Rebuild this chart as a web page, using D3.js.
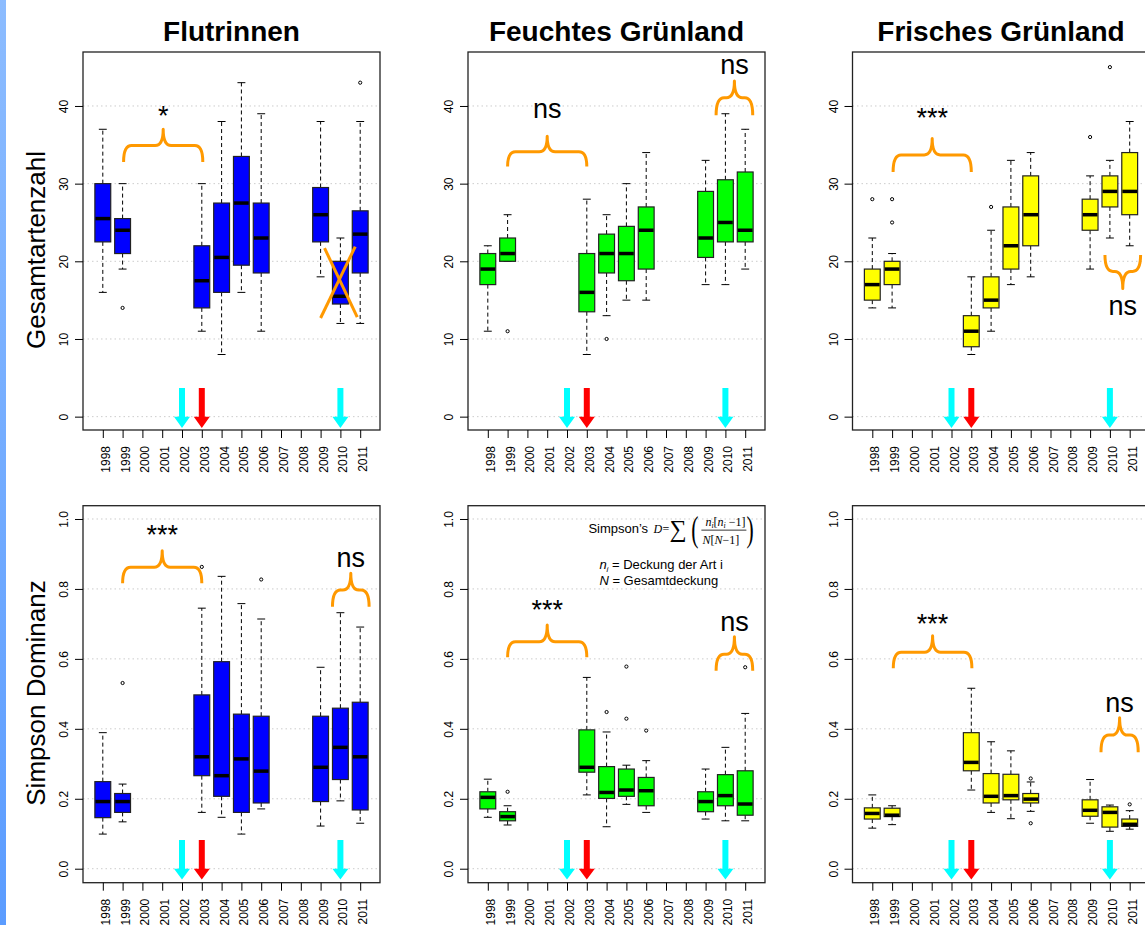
<!DOCTYPE html>
<html>
<head>
<meta charset="utf-8">
<script src="https://cdn.jsdelivr.net/npm/d3@7"></script>
<style>
  body { margin: 0; background: #fff; }
  svg { display: block; font-family: "Liberation Sans", Arial, sans-serif; }
</style>
</head>
<body>
<div id="chart"></div>
<script>
// Axis categories
const years = [1998, 1999, 2000, 2001, 2002, 2003, 2004, 2005, 2006, 2007, 2008, 2009, 2010, 2011];
const sampled = [1998, 1999, 2003, 2004, 2005, 2006, 2009, 2010, 2011];
const titles = ['Flutrinnen', 'Feuchtes Grünland', 'Frisches Grünland'];
const rowLabels = ['Gesamtartenzahl', 'Simpson Dominanz'];
const countTicks = [0, 10, 20, 30, 40];
const simpsonTicks = [0, 0.2, 0.4, 0.6, 0.8, 1.0];

// Box statistics per sampled year: [lower whisker, Q1, median, Q3, upper whisker]
const flutArten = [[16,22.5,25.5,30,37],[19,21,24,25.5,30],[11,14,17.5,22,30],[8,16,20.5,27.5,38],
  [16,19.5,27.5,33.5,43],[11,18.5,23,27.5,39],[18,22.5,26,29.5,38],[12,14.5,15.5,20,23],[12,18.5,23.5,26.5,38]];
const feuchtArten = [[11,17,19,21,22],[20,20,21,23,26],[8,13.5,16,21,28],[13,18.5,21,23.5,26],
  [15,17.5,21,24.5,30],[15,19,24,27,34],[17,20.5,23,29,33],[17,22.5,25,30.5,39],[19,22.5,24,31.5,37]];
const frischArten = [[14,15,17,19,23],[14,17,19,20,21],[8,9,11,13,18],[11,14,15,18,24],
  [17,19,22,27,33],[18,22,26,31,34],[19,24,26,28,31],[23,27,29,31,33],[22,26,29,34,38]];
const flutSimpson = [[0.099,0.146,0.192,0.249,0.389],[0.134,0.161,0.192,0.215,0.242],[0.161,0.266,0.320,0.497,0.745],
  [0.147,0.207,0.266,0.592,0.836],[0.099,0.161,0.314,0.442,0.758],[0.171,0.188,0.279,0.436,0.714],
  [0.122,0.192,0.290,0.436,0.576],[0.194,0.255,0.347,0.459,0.732],[0.130,0.168,0.320,0.476,0.691]];
const feuchtSimpson = [[0.147,0.171,0.204,0.220,0.256],[0.125,0.137,0.149,0.163,0.180],[0.211,0.276,0.290,0.397,0.547],
  [0.120,0.201,0.218,0.292,0.391],[0.184,0.207,0.225,0.285,0.296],[0.161,0.180,0.223,0.261,0.309],
  [0.142,0.163,0.192,0.220,0.285],[0.137,0.180,0.209,0.269,0.347],[0.137,0.153,0.185,0.280,0.444]];
const frischSimpson = [[0.116,0.142,0.158,0.174,0.211],[0.126,0.149,0.153,0.173,0.180],[0.225,0.280,0.304,0.389,0.516],
  [0.161,0.188,0.207,0.272,0.363],[0.143,0.197,0.209,0.270,0.337],[0.164,0.188,0.199,0.215,0.248],
  [0.130,0.150,0.167,0.197,0.255],[0.107,0.119,0.161,0.177,0.182],[0.113,0.121,0.127,0.142,0.166]];

// Outliers: [year, value]
const flutArtenOut = [[1999,14],[2011,43]];
const feuchtArtenOut = [[1999,11],[2004,10]];
const frischArtenOut = [[1998,28],[1999,28],[1999,25],[2004,27],[2009,36],[2010,45]];
const flutSimpsonOut = [[1999,0.531],[2003,0.863],[2006,0.827]];
const feuchtSimpsonOut = [[1999,0.220],[2004,0.448],[2005,0.578],[2005,0.429],[2006,0.395],[2011,0.576]];
const frischSimpsonOut = [[2006,0.258],[2006,0.130],[2011,0.184]];

// Significance braces: [x1, x2, end, middle, tip, label, labelY]
const flutArtenBr = [[1999.05,2003.05,32.8,34.9,37.0,'*',37.5]];
const feuchtArtenBr = [[1999,2003,32.2,34.1,36.1,'ns',38.4],[2009.53,2011.38,38.8,41.05,43.2,'ns',44.1]];
const frischArtenBr = [[1999.05,2003,31.5,33.7,35.8,'***',37.3],[2009.75,2011.55,20.8,18.7,16.5,'ns',13.1]];
const flutSimpsonBr = [[1999,2003,0.816,0.862,0.909,'***',0.928],[2009.6,2011.45,0.749,0.797,0.845,'ns',0.864]];
const feuchtSimpsonBr = [[1999,2003,0.605,0.649,0.697,'***',0.714],[2009.53,2011.38,0.566,0.613,0.663,'ns',0.681]];
const frischSimpsonBr = [[1999.06,2003.03,0.573,0.619,0.666,'***',0.673],[2009.55,2011.43,0.333,0.382,0.432,'ns',0.449]];

// Event arrows and the crossed-out box
const cyanYears = [2002, 2010];
const redYears = [2003];
const crossLines = [[[2009.2,21.7],[2010.85,12.8]], [[2009.0,12.7],[2010.75,21.9]]];
const formulaAt = [2003.08, 0.961];

const fills = ['#0000ff', '#00ff00', '#ffff00'];
const orange = '#ff9900';

const svg = d3.select('#chart').append('svg')
  .attr('width', 1145).attr('height', 925);

// blue strip on the left edge
const grad = svg.append('defs').append('linearGradient')
  .attr('id', 'strip').attr('x1', 0).attr('y1', 0).attr('x2', 0).attr('y2', 1);
grad.append('stop').attr('offset', 0).attr('stop-color', '#8cbcff');
grad.append('stop').attr('offset', 1).attr('stop-color', '#5b9cff');
svg.append('rect').attr('x', 0).attr('y', 0).attr('width', 6).attr('height', 925).attr('fill', 'url(#strip)');

const colLeft = [83, 468, 852.5];
const plotW = 297;
const rows = [
  {top: 52, bottom: 430, domain: [-1.72, 46.95], ticks: countTicks, fmt: d3.format('d'), labelY: 250,
   arrow: [3.7, 0, -1.45], stats: [flutArten, feuchtArten, frischArten],
   outs: [flutArtenOut, feuchtArtenOut, frischArtenOut], braces: [flutArtenBr, feuchtArtenBr, frischArtenBr]},
  {top: 505.7, bottom: 882.7, domain: [-0.04, 1.038], ticks: simpsonTicks, fmt: d3.format('.1f'), labelY: 693,
   arrow: [0.082, 0, -0.031], stats: [flutSimpson, feuchtSimpson, frischSimpson],
   outs: [flutSimpsonOut, feuchtSimpsonOut, frischSimpsonOut], braces: [flutSimpsonBr, feuchtSimpsonBr, frischSimpsonBr]}
];

// column titles
titles.forEach((t, c) => {
  svg.append('text')
    .attr('x', colLeft[c] + plotW / 2).attr('y', 40.5)
    .attr('text-anchor', 'middle').attr('font-size', 28).attr('font-weight', 'bold')
    .text(t);
});

rows.forEach((row, r) => {
  // y axis title
  svg.append('text')
    .attr('transform', `translate(45,${row.labelY}) rotate(-90)`)
    .attr('text-anchor', 'middle').attr('font-size', 26)
    .text(rowLabels[r]);

  colLeft.forEach((left, c) => {
    const x = d3.scaleLinear().domain([1997, 2012]).range([left, left + plotW]);
    const y = d3.scaleLinear().domain(row.domain).range([row.bottom, row.top]);
    const g = svg.append('g');
    const step = x(1998) - x(1997);
    const bw = 0.8 * step;

    // dotted grid
    g.selectAll('.grid').data(row.ticks).enter().append('line')
      .attr('x1', left).attr('x2', left + plotW)
      .attr('y1', d => y(d)).attr('y2', d => y(d))
      .attr('stroke', '#cccccc').attr('stroke-width', 1).attr('stroke-dasharray', '1.5,3');

    // boxes
    const boxData = row.stats[c].map((s, i) => ({year: sampled[i], s: s}));
    const bg = g.selectAll('.box').data(boxData).enter().append('g');
    bg.append('line') // upper whisker
      .attr('x1', d => x(d.year)).attr('x2', d => x(d.year))
      .attr('y1', d => y(d.s[3])).attr('y2', d => y(d.s[4]))
      .attr('stroke', '#000').attr('stroke-dasharray', '4,3');
    bg.append('line') // lower whisker
      .attr('x1', d => x(d.year)).attr('x2', d => x(d.year))
      .attr('y1', d => y(d.s[1])).attr('y2', d => y(d.s[0]))
      .attr('stroke', '#000').attr('stroke-dasharray', '4,3');
    [0, 4].forEach(k => {
      bg.append('line')
        .attr('x1', d => x(d.year) - bw / 4).attr('x2', d => x(d.year) + bw / 4)
        .attr('y1', d => y(d.s[k])).attr('y2', d => y(d.s[k]))
        .attr('stroke', '#000').attr('stroke-width', 1);
    });
    bg.append('rect')
      .attr('x', d => x(d.year) - bw / 2).attr('width', bw)
      .attr('y', d => y(d.s[3])).attr('height', d => y(d.s[1]) - y(d.s[3]))
      .attr('fill', fills[c]).attr('stroke', '#222').attr('stroke-width', 1.2);
    bg.append('line')
      .attr('x1', d => x(d.year) - bw / 2 + 0.6).attr('x2', d => x(d.year) + bw / 2 - 0.6)
      .attr('y1', d => y(d.s[2])).attr('y2', d => y(d.s[2]))
      .attr('stroke', '#000').attr('stroke-width', 3.5);

    g.selectAll('.out').data(row.outs[c]).enter().append('circle')
      .attr('cx', d => x(d[0])).attr('cy', d => y(d[1])).attr('r', 1.6)
      .attr('fill', 'none').attr('stroke', '#000').attr('stroke-width', 1);

    // arrows
    const arrowPts = yr => {
      const ax = x(yr), ys = y(row.arrow[0]), yh = y(row.arrow[1]), yt = y(row.arrow[2]);
      return [[ax - 3, ys], [ax + 3, ys], [ax + 3, yh], [ax + 8, yh], [ax, yt], [ax - 8, yh], [ax - 3, yh]]
        .map(p => p.join(',')).join(' ');
    };
    g.selectAll('.cyan').data(cyanYears).enter().append('polygon')
      .attr('points', arrowPts).attr('fill', '#00ffff');
    g.selectAll('.red').data(redYears).enter().append('polygon')
      .attr('points', arrowPts).attr('fill', '#ff0000');

    // braces with significance labels
    const r0 = 8;
    row.braces[c].forEach(b => {
      const x1 = x(b[0]), x2 = x(b[1]), cx = (x1 + x2) / 2;
      const ye = y(b[2]), ym = y(b[3]), yt = y(b[4]);
      const p = `M${x1},${ye} Q${x1},${ym} ${x1 + r0},${ym} L${cx - r0},${ym} Q${cx},${ym} ${cx},${yt}` +
        ` Q${cx},${ym} ${cx + r0},${ym} L${x2 - r0},${ym} Q${x2},${ym} ${x2},${ye}`;
      g.append('path').attr('d', p).attr('fill', 'none')
        .attr('stroke', orange).attr('stroke-width', 3).attr('stroke-linejoin', 'round');
      g.append('text').attr('x', cx).attr('y', y(b[6]))
        .attr('text-anchor', 'middle').attr('font-size', 27).text(b[5]);
    });

    if (r === 0 && c === 0) {
      g.selectAll('.cross').data(crossLines).enter().append('line')
        .attr('x1', d => x(d[0][0])).attr('y1', d => y(d[0][1]))
        .attr('x2', d => x(d[1][0])).attr('y2', d => y(d[1][1]))
        .attr('stroke', orange).attr('stroke-width', 3);
    }

    if (r === 1 && c === 1) {
      const f = g.append('g').attr('transform', `translate(${x(formulaAt[0])},${y(formulaAt[1])})`);
      const serif = '"Liberation Serif", "Times New Roman", serif';
      f.append('text').attr('font-size', 13).text('Simpson\u2019s');
      f.append('text').attr('x', 65).attr('font-size', 12).attr('font-family', serif)
        .attr('font-style', 'italic').text('D');
      f.append('text').attr('x', 74).attr('font-size', 12).attr('font-family', serif).text('=');
      f.append('text').attr('x', 81).attr('y', 4).attr('font-size', 24).attr('font-family', serif).text('\u2211');
      f.append('text').attr('x', 103).attr('y', 8).attr('font-size', 36).attr('font-family', serif)
        .attr('transform', 'translate(103,0) scale(0.6,1) translate(-103,0)').text('(');
      f.append('text').attr('x', 158).attr('y', 8).attr('font-size', 36).attr('font-family', serif)
        .attr('transform', 'translate(158,0) scale(0.6,1) translate(-158,0)').text(')');
      const num = f.append('text').attr('x', 117).attr('y', -6.5).attr('font-size', 12).attr('font-family', serif);
      num.append('tspan').attr('font-style', 'italic').text('n');
      num.append('tspan').attr('font-style', 'italic').attr('font-size', 8).attr('dy', 2).text('i');
      num.append('tspan').attr('dy', -2).text('[');
      num.append('tspan').attr('font-style', 'italic').text('n');
      num.append('tspan').attr('font-style', 'italic').attr('font-size', 8).attr('dy', 2).text('i');
      num.append('tspan').attr('dy', -2).text(' \u22121]');
      f.append('line').attr('x1', 113).attr('x2', 158).attr('y1', -2.5).attr('y2', -2.5)
        .attr('stroke', '#000').attr('stroke-width', 0.8);
      const den = f.append('text').attr('x', 114).attr('y', 11.5).attr('font-size', 12).attr('font-family', serif);
      den.append('tspan').attr('font-style', 'italic').text('N');
      den.append('tspan').text('[');
      den.append('tspan').attr('font-style', 'italic').text('N');
      den.append('tspan').text('\u22121]');

      const l1 = f.append('text').attr('x', 11).attr('y', 36.3).attr('font-size', 13);
      l1.append('tspan').attr('font-style', 'italic').text('n');
      l1.append('tspan').attr('font-style', 'italic').attr('font-size', 8).attr('dy', 3).text('i');
      l1.append('tspan').attr('dy', -3).text(' = Deckung der Art i');
      const l2 = f.append('text').attr('x', 11).attr('y', 52.3).attr('font-size', 13);
      l2.append('tspan').attr('font-style', 'italic').text('N');
      l2.append('tspan').text(' = Gesamtdeckung');
    }

    // plot frame
    g.append('rect').attr('x', left).attr('y', row.top)
      .attr('width', plotW).attr('height', row.bottom - row.top)
      .attr('fill', 'none').attr('stroke', '#222').attr('stroke-width', 1.3);

    // axes
    g.append('g').attr('transform', `translate(${left},0)`)
      .call(d3.axisLeft(y).tickValues(row.ticks).tickSize(8).tickFormat(row.fmt))
      .call(a => {
        a.attr('font-family', null).attr('font-size', 12);
        a.select('.domain').remove();
        a.selectAll('text').attr('x', 0).attr('dy', null)
          .attr('transform', 'translate(-15,0) rotate(-90)').attr('text-anchor', 'middle')
          .attr('fill', '#000');
      });
    g.append('g').attr('transform', `translate(0,${row.bottom})`)
      .call(d3.axisBottom(x).tickValues(years).tickSize(8).tickFormat(d3.format('d')))
      .call(a => {
        a.attr('font-family', null).attr('font-size', 12);
        a.select('.domain').remove();
        a.selectAll('text').attr('y', 0).attr('dy', null)
          .attr('transform', 'translate(6.5,16) rotate(-90)').attr('text-anchor', 'end')
          .attr('fill', '#000');
      });
  });
});
</script>
</body>
</html>
